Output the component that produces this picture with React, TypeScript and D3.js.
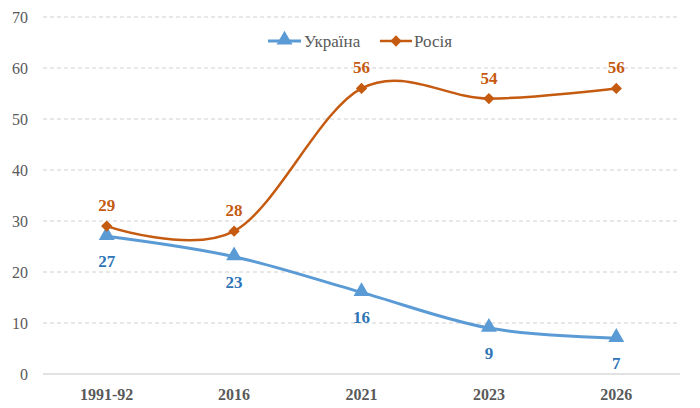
import { useMemo } from 'react'
import * as d3 from 'd3'

const categories = ['1991-92', '2016', '2021', '2023', '2026']
const ukraine = [27, 23, 16, 9, 7]
const russia = [29, 28, 56, 54, 56]
const yTicks = [0, 10, 20, 30, 40, 50, 60, 70]

const W = 700
const H = 408
const margin = { top: 17, right: 20, bottom: 34, left: 43 }

const BLUE = '#5B9BD5'
const BLUE_TEXT = '#2E75B6'
const ORANGE = '#C55A11'
const FONT = "'Times New Roman', 'Liberation Serif', 'DejaVu Serif', serif"

export default function App() {
  const x = useMemo(
    () => d3.scaleBand<string>().domain(categories).range([margin.left, W - margin.right]),
    []
  )
  const y = useMemo(() => d3.scaleLinear().domain([0, 70]).range([H - margin.bottom, margin.top]), [])
  const cx = (c: string) => (x(c) ?? 0) + x.bandwidth() / 2

  const line = d3
    .line<number>()
    .x((_, i) => cx(categories[i]))
    .y(d => y(d))
    .curve(d3.curveCatmullRom.alpha(0))

  const tri = d3.symbol().type(d3.symbolTriangle).size(110)() ?? ''
  // square turned 45deg, like the office-style diamond marker
  const dia = d3.symbol().type(d3.symbolSquare).size(64)() ?? ''

  return (
    <svg width={W} height={H} style={{ position: 'absolute', left: 0, top: 0, background: '#fff', fontFamily: FONT }}>
      {yTicks.map(t => (
        <g key={t}>
          <line
            x1={margin.left}
            x2={W - margin.right}
            y1={y(t)}
            y2={y(t)}
            stroke={t === 0 ? '#d9d9d9' : '#d0d0d0'}
            strokeWidth={t === 0 ? 1.5 : 1}
            strokeDasharray={t === 0 ? undefined : '4 3'}
          />
          <text x={28} y={y(t)} dy="0.35em" textAnchor="end" fontSize={16} fill="#595959">
            {t}
          </text>
        </g>
      ))}

      {categories.map(c => (
        <text key={c} x={cx(c)} y={H - 8} textAnchor="middle" fontSize={16} fontWeight="bold" fill="#595959">
          {c}
        </text>
      ))}

      <path d={line(ukraine) ?? ''} fill="none" stroke={BLUE} strokeWidth={3} />
      <path d={line(russia) ?? ''} fill="none" stroke={ORANGE} strokeWidth={2.5} />

      {ukraine.map((v, i) => (
        <g key={'u' + i}>
          <path d={tri} transform={`translate(${cx(categories[i])},${y(v) - 1})`} fill={BLUE} />
          <text x={cx(categories[i])} y={y(v) + 31} textAnchor="middle" fontSize={17} fontWeight="bold" fill={BLUE_TEXT}>
            {v}
          </text>
        </g>
      ))}

      {russia.map((v, i) => (
        <g key={'r' + i}>
          <path d={dia} transform={`translate(${cx(categories[i])},${y(v)}) rotate(45)`} fill={ORANGE} />
          <text x={cx(categories[i])} y={y(v) - 15} textAnchor="middle" fontSize={17} fontWeight="bold" fill={ORANGE}>
            {v}
          </text>
        </g>
      ))}

      {/* legend */}
      <g transform="translate(268,41)">
        <line x1={0} x2={33} stroke={BLUE} strokeWidth={3} />
        <path d={tri} transform="translate(16.5,-1)" fill={BLUE} />
        <text x={36} dy="0.35em" fontSize={17} fill="#595959">
          Україна
        </text>
      </g>
      <g transform="translate(380,41)">
        <line x1={0} x2={32} stroke={ORANGE} strokeWidth={2.5} />
        <path d={dia} transform="translate(16,0) rotate(45)" fill={ORANGE} />
        <text x={34} dy="0.35em" fontSize={17} fill="#595959">
          Росія
        </text>
      </g>
    </svg>
  )
}
